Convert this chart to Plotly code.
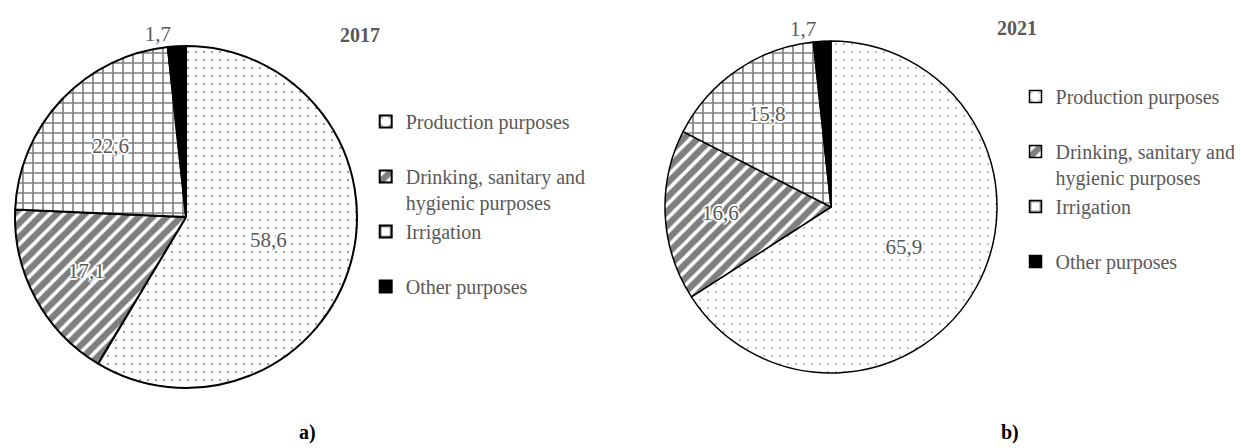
import plotly.graph_objects as go

categories = ["Production purposes", "Drinking, sanitary and<br>hygienic purposes", "Irrigation", "Other purposes"]
values_2017 = [58.6, 17.1, 22.6, 1.7]
values_2021 = [65.9, 16.6, 15.8, 1.7]
titles = ["2017", "2021"]
panel_labels = ["a)", "b)"]

# blank trailing lines only widen the legend spacing, as in the original;
# a zero-width space keeps the second chart's legend entries separate
labels_a = [categories[0] + "<br> ", categories[1], categories[2] + "<br> ", categories[3]]
labels_b = [s + "\u200b" for s in labels_a]

FONT = "Liberation Serif"
GRAY = "#595959"
shadow = ("1px 1px 0px white, -1px -1px 0px white, 1px -1px 0px white, -1px 1px 0px white, "
          "2px 0px 0px white, -2px 0px 0px white, 0px 2px 0px white, 0px -2px 0px white")

def make_pie(labels, values, domain, dotcolor, legend, linew):
    return go.Pie(
        labels=labels,
        values=values,
        sort=False,
        direction="clockwise",
        rotation=0,
        domain=domain,
        legend=legend,
        texttemplate="%{value:.1f}",
        textposition=["inside", "inside", "inside", "outside"],
        insidetextorientation="horizontal",
        textfont=dict(family=FONT, size=21, color=GRAY, shadow=shadow),
        outsidetextfont=dict(family=FONT, size=21, color=GRAY),
        hoverinfo="label+value",
        marker=dict(
            colors=["white", "white", "white", "black"],
            line=dict(color="black", width=linew),
            pattern=dict(
                shape=[".", "/", "+", ""],
                fgcolor=[dotcolor, "black", "black", "black"],
                bgcolor=["white", "white", "white", "black"],
                size=[8, 10, 10, 8],
                solidity=[0.05, 0.65, 0.3, 0.3],
                fillmode="overlay",
            ),
        ),
    )

fig = go.Figure()
fig.add_trace(make_pie(labels_a, values_2017, dict(x=[0.00564, 0.28100], y=[0.15179, 0.91518]),
                       "black", "legend", 2))
fig.add_trace(make_pie(labels_b, values_2021, dict(x=[0.52898, 0.79630], y=[0.18527, 0.92634]),
                       "#2b52a8", "legend2", 1.5))

legend_common = dict(
    font=dict(family=FONT, size=20, color=GRAY),
    valign="top",
    bgcolor="rgba(0,0,0,0)",
    itemclick=False,
    xanchor="left",
    yanchor="top",
    itemwidth=30,
)

def ann(text, x, y, color):
    return dict(text="<b>" + text + "</b>", x=x / 1242, y=1 - y / 448, xref="paper", yref="paper",
                xanchor="center", yanchor="middle", showarrow=False,
                font=dict(family=FONT, size=20, color=color))

fig.update_layout(
    width=1242,
    height=448,
    margin=dict(l=0, r=0, t=0, b=0),
    paper_bgcolor="white",
    separators=", ",
    showlegend=True,
    legend=dict(x=0.288, y=0.79, **legend_common),
    legend2=dict(x=0.8112, y=0.846, **legend_common),
    annotations=[
        ann(titles[0], 352, 27, GRAY),
        ann(titles[1], 1009, 20, GRAY),
        ann(panel_labels[0], 299, 424, "black"),
        ann(panel_labels[1], 1002, 424, "black"),
    ],
)

fig.write_html("out.html")
